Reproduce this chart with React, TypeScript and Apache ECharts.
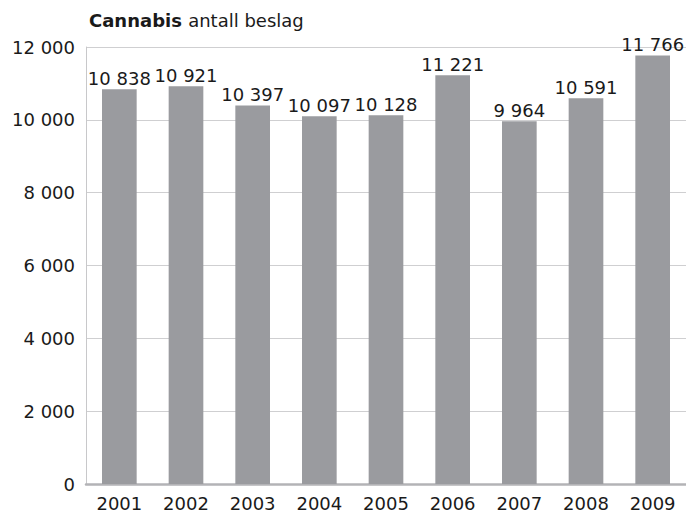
import React, { useEffect, useRef } from "react";
import * as echarts from "echarts";

const years = ["2001", "2002", "2003", "2004", "2005", "2006", "2007", "2008", "2009"];
const seizures = [10838, 10921, 10397, 10097, 10128, 11221, 9964, 10591, 11766];
const yTicks = [0, 2000, 4000, 6000, 8000, 10000, 12000];

const fmt = (v: number) => String(v).replace(/\B(?=(\d{3})+(?!\d))/g, " ");

export default function App() {
  const ref = useRef<HTMLDivElement>(null);
  useEffect(() => {
    if (!ref.current) return;
    const chart = echarts.init(ref.current, undefined, { renderer: "svg" });
    const font = "DejaVu Sans";
    chart.setOption({
      animation: false,
      backgroundColor: "#ffffff",
      textStyle: { fontFamily: font },
      title: {
        text: "{b|Cannabis} {r|antall beslag}",
        left: 89,
        top: 11,
        padding: 0,
        textStyle: {
          rich: {
            b: { fontFamily: font, fontWeight: "bold", fontSize: 18, color: "#1a1a1a" },
            r: { fontFamily: font, fontWeight: "normal", fontSize: 18, color: "#1a1a1a" },
          },
        },
      },
      grid: { left: 86, right: 0, top: 47, bottom: 29, containLabel: false },
      xAxis: {
        type: "category",
        data: years,
        axisLine: { show: true, lineStyle: { color: "#b3b3b6", width: 2.5 } },
        axisTick: { show: false },
        axisLabel: { color: "#1a1a1a", fontSize: 18, fontFamily: font, margin: 10 },
      },
      yAxis: {
        type: "value",
        min: yTicks[0],
        max: yTicks[yTicks.length - 1],
        interval: 2000,
        axisLine: { show: true, lineStyle: { color: "#c8c8ca", width: 1 } },
        axisTick: { show: false },
        splitLine: { show: true, lineStyle: { color: "#cfcfd1", width: 1 } },
        axisLabel: {
          color: "#1a1a1a",
          fontSize: 18,
          fontFamily: font,
          margin: 11,
          padding: [6, 0, 0, 0],
          formatter: (v: number) => fmt(v),
        },
      },
      series: [
        {
          type: "bar",
          data: seizures,
          barWidth: "52%",
          itemStyle: { color: "#9a9b9f" },
          label: {
            show: true,
            position: "top",
            distance: 2,
            color: "#1a1a1a",
            fontSize: 18,
            fontFamily: font,
            formatter: (p: any) => fmt(p.value),
          },
        },
      ],
    });
    return () => chart.dispose();
  }, []);
  return <div ref={ref} style={{ width: 686, height: 513, position: "absolute", left: 0, top: 0 }} />;
}
